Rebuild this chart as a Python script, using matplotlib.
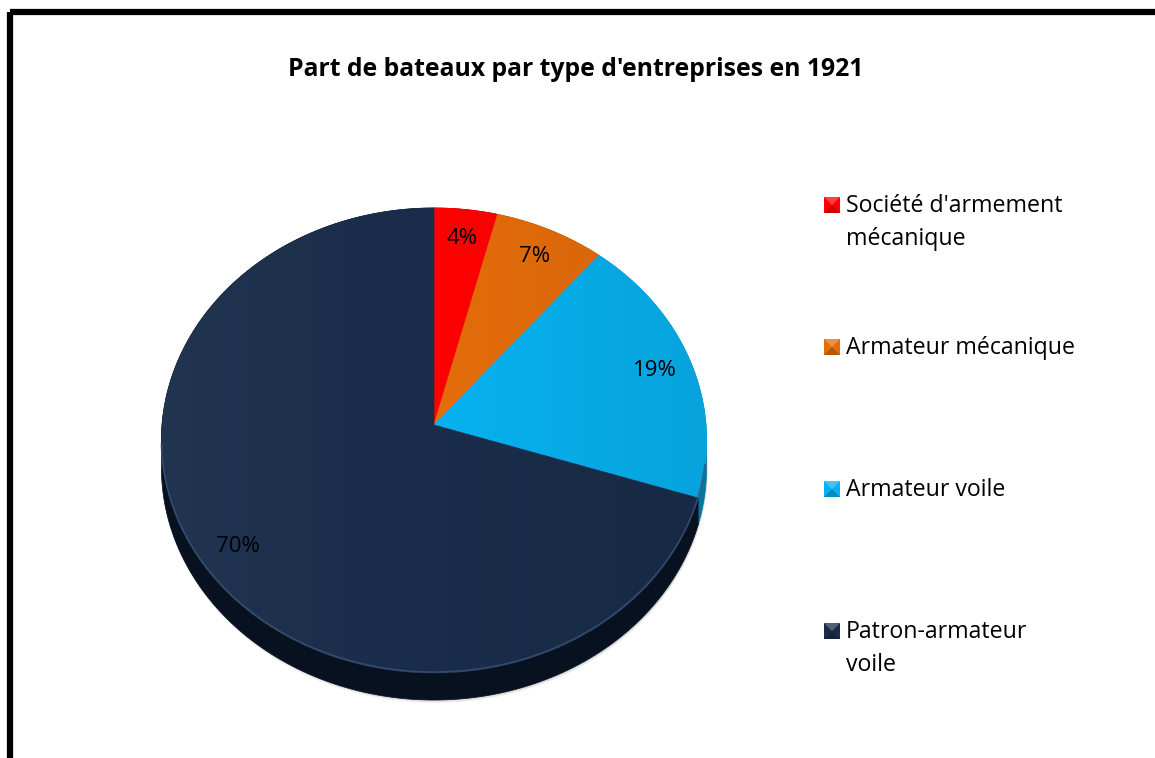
import numpy as np
import matplotlib.pyplot as plt
from matplotlib.patches import Polygon, Rectangle

# Part de bateaux par type d'entreprises, 1921
categories = ["Société d'armement\nmécanique", "Armateur mécanique",
              "Armateur voile", "Patron-armateur\nvoile"]
shares = [4, 7, 19, 70]
colors = ['#FE0000', '#E46C0A', '#07B1EF', '#192D4A']
side_colors = ['#A00000', '#8A4006', '#00779F', '#07111F']
title = "Part de bateaux par type d'entreprises en 1921"

plt.rcParams['font.family'] = ['Open Sans', 'DejaVu Sans']

W, H = 1155, 758
fig = plt.figure(figsize=(W / 100, H / 100), dpi=100)
ax = fig.add_axes([0, 0, 1, 1])
ax.set_xlim(0, W)
ax.set_ylim(H, 0)
ax.axis('off')

# pie geometry (pixels), slight perspective tilt
cx, cy = 434, 425
a, b, k = 272, 231.5, 0.0667
depth = 27


def project(theta, r=1.0):
    # theta in degrees, clockwise from 12 o'clock
    t = np.radians(theta)
    u = r * np.sin(t)
    v = -r * np.cos(t)
    w = 1 - k * v
    return cx + a * u / w, cy + b * v / w


total = float(sum(shares))
bounds = np.concatenate([[0], np.cumsum(shares)]) / total * 360

# soft shadow under the disk
th = np.linspace(0, 360, 300)
xs, ys = project(th)
for i, alpha in enumerate([0.05, 0.05, 0.06]):
    ax.add_patch(Polygon(np.column_stack([xs + 1, ys + depth + 3 - i]),
                         closed=True, fc='black', ec='none', alpha=alpha, zorder=1))

# sides first
for i in range(len(shares)):
    th = np.linspace(bounds[i], bounds[i + 1], 200)
    xs, ys = project(th)
    pts = np.column_stack([np.r_[xs, xs[::-1]], np.r_[ys, ys[::-1] + depth]])
    ax.add_patch(Polygon(pts, closed=True, fc=side_colors[i], ec=side_colors[i],
                         lw=0.5, zorder=2))

# top faces
for i in range(len(shares)):
    th = np.linspace(bounds[i], bounds[i + 1], 200)
    xs, ys = project(th)
    pts = np.column_stack([np.r_[cx, xs], np.r_[cy, ys]])
    ax.add_patch(Polygon(pts, closed=True, fc=colors[i], ec=colors[i],
                         lw=0.5, zorder=3))

# light-to-dark horizontal shading over the top face
th = np.linspace(0, 360, 400)
xs, ys = project(th)
top_clip = Polygon(np.column_stack([xs, ys]), closed=True, fc='none', ec='none',
                   transform=ax.transData)
ax.add_patch(top_clip)
grad = np.zeros((2, 256, 4))
ramp = np.linspace(0, 1, 256)
grad[..., :3] = np.where(ramp < 0.5, 1.0, 0.0)[None, :, None]
grad[..., 3] = (np.where(ramp < 0.5, 0.035, 0.08) * np.abs(ramp - 0.5) * 2)[None, :]
img = ax.imshow(grad, extent=[xs.min(), xs.max(), ys.max(), ys.min()],
                aspect='auto', zorder=3.5, interpolation='bilinear')
img.set_clip_path(top_clip)
ax.set_xlim(0, W)
ax.set_ylim(H, 0)

# thin bevel highlight along the front rim
th = np.linspace(100, 265, 300)
xs, ys = project(th)
ax.plot(xs, ys - 1, color='#3A5275', lw=1.2, alpha=0.8, zorder=4)

# percentage labels
for i, s in enumerate(shares):
    mid = (bounds[i] + bounds[i + 1]) / 2
    lx, ly = project(mid, 0.86)
    ax.text(lx, ly, f"{s}%", ha='center', va='center', fontsize=16,
            color='black', zorder=5)

ax.text(576, 70, title, ha='center', va='center', fontsize=17.8,
        fontweight='bold', color='black')

# legend
leg_x, leg_y0, leg_step, sq = 824, 205, 142, 16
for i, lab in enumerate(categories):
    y = leg_y0 + i * leg_step
    x0, y0 = leg_x, y - sq / 2
    c = colors[i]
    ax.add_patch(Rectangle((x0, y0), sq, sq, fc=c, ec='none', zorder=5))
    # small bevel: lighter top, darker bottom
    ax.add_patch(Polygon([[x0, y0], [x0 + sq, y0], [x0 + sq / 2, y0 + sq / 2]],
                         fc='white', alpha=0.25, ec='none', zorder=6))
    ax.add_patch(Polygon([[x0, y0 + sq], [x0 + sq, y0 + sq], [x0 + sq / 2, y0 + sq / 2]],
                         fc='black', alpha=0.2, ec='none', zorder=6))
    ax.text(846, y - 11, lab, ha='left', va='top', fontsize=16.7,
            color='black', linespacing=1.5, zorder=6)

# outer frame
ax.add_patch(Rectangle((9.5, 12), W + 20, H + 20, fill=False, ec='black', lw=4.5,
                       zorder=10, clip_on=False))

fig.savefig('out.png', dpi=100)
